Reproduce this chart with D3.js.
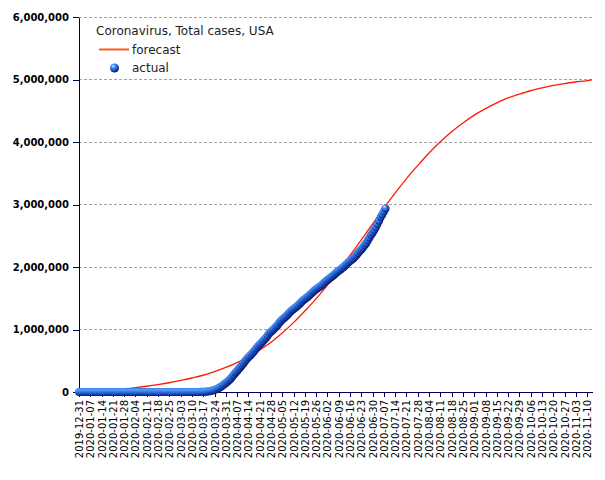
<!DOCTYPE html>
<html><head><meta charset="utf-8">
<script src="https://cdn.jsdelivr.net/npm/d3@7"></script>
<style>body{margin:0;background:#fff;overflow:hidden}</style></head>
<body><svg id="chart" width="605" height="480"></svg>
<script>
// ---- data ----
const startDate = "2019-12-31";
const endDate = "2020-11-13";
const chartTitle = "Coronavirus, Total cases, USA";
const seriesNames = ["forecast", "actual"];
// actual cumulative cases, one value per day starting 2019-12-31
const actualCases = [
0,0,0,0,0,0,0,0,0,0,0,0,0,0,0,0,0,0,0,0,0,
1,1,1,1,2,2,5,5,5,5,5,6,
7,8,11,11,11,12,12,12,12,12,13,13,14,15,15,15,15,15,15,15,15,35,35,35,53,53,59,60,66,
68,75,100,124,158,221,319,435,541,704,994,1301,1630,2183,2770,3613,4596,6344,9197,13779,19367,24192,33592,43781,54856,68211,85435,104126,123578,143491,164603,
188172,213372,243453,275586,308850,337072,366667,396223,429052,461437,496535,526396,555313,580619,607670,636350,667801,699706,732197,759086,784326,811865,840351,869170,905358,938154,965785,988197,1012582,1039909,
1069424,1103461,1132539,1158040,1180375,1204351,1228603,1257023,1283929,1309550,1329260,1347881,1369376,1390406,1417774,1442824,1467820,1486757,1508308,1528568,1551853,1577147,1600937,1622612,1643246,1662302,1680913,1699933,1721750,1747087,1770384,
1790191,1811277,1831821,1851520,1872660,1897380,1920061,1938823,1956421,1979850,2000464,2023590,2048986,2074526,2094069,2114026,2137731,2163290,2191052,2222579,2255119,2280969,2312302,2347102,2381369,2422312,2467554,2510323,2549069,2590668,
2636414,2687588,2739879,2795163,2841906,2886267,2936077
];
// forecast, at day offsets from startDate
const forecastDays = [0,7,14,21,28,35,42,49,56,63,70,77,84,91,98,105,112,119,126,133,140,147,154,161,168,175,182,189,196,203,210,217,224,231,238,245,252,259,266,273,280,287,294,301,308,315,318];
const forecastCases = [18000,23000,30000,39000,52000,70000,92000,118000,148000,185000,224000,268000,326000,393000,471000,564000,672000,797000,945000,1110000,1295000,1495000,1710000,1945000,2185000,2435000,2690000,2940000,3185000,3415000,3625000,3825000,4005000,4165000,4305000,4430000,4535000,4625000,4705000,4765000,4820000,4865000,4905000,4935000,4960000,4982000,4995000];
const xTickLabels = ["2019-12-31","2020-01-07","2020-01-14","2020-01-21","2020-01-28","2020-02-04","2020-02-11","2020-02-18","2020-02-25","2020-03-03","2020-03-10","2020-03-17","2020-03-24","2020-03-31","2020-04-07","2020-04-14","2020-04-21","2020-04-28","2020-05-05","2020-05-12","2020-05-19","2020-05-26","2020-06-02","2020-06-09","2020-06-16","2020-06-23","2020-06-30","2020-07-07","2020-07-14","2020-07-21","2020-07-28","2020-08-04","2020-08-11","2020-08-18","2020-08-25","2020-09-01","2020-09-08","2020-09-15","2020-09-22","2020-09-29","2020-10-06","2020-10-13","2020-10-20","2020-10-27","2020-11-03","2020-11-10"];
const yTicks = [0,1000000,2000000,3000000,4000000,5000000,6000000];

// ---- chart ----
(function(){
const parse = d3.utcParse("%Y-%m-%d");
const fmt = d3.utcFormat("%Y-%m-%d");
const t0 = parse(startDate);
const dayDate = i => d3.utcDay.offset(t0, i);

const svg = d3.select("#chart");
const mLeft = 79, mRight = 592, mTop = 17, mBottom = 392;
const axisColor = "#00004f";

const x = d3.scaleUtc().domain([t0, parse(endDate)]).range([mLeft, mRight]);
const y = d3.scaleLinear().domain([0, 6000000]).range([mBottom, mTop]);

const defs = svg.append("defs");
const grad = defs.append("radialGradient").attr("id","ball")
  .attr("cx","38%").attr("cy","32%").attr("r","65%").attr("fx","35%").attr("fy","28%");
grad.append("stop").attr("offset","0%").attr("stop-color","#e0f0ff");
grad.append("stop").attr("offset","30%").attr("stop-color","#4a96f5");
grad.append("stop").attr("offset","70%").attr("stop-color","#1c55cc");
grad.append("stop").attr("offset","100%").attr("stop-color","#0a1f70");

// gridlines
svg.append("g").selectAll("line").data(yTicks.filter(d => d > 0)).join("line")
  .attr("x1", mLeft).attr("x2", mRight)
  .attr("y1", d => y(d)).attr("y2", d => y(d))
  .attr("stroke", "#a4a4a4").attr("stroke-width", 1)
  .attr("stroke-dasharray", "3,2").attr("shape-rendering","crispEdges");

// y axis
const yAxis = svg.append("g").attr("transform", `translate(${mLeft},0)`)
  .call(d3.axisLeft(y).tickValues(yTicks).tickFormat(d3.format(",")).tickSize(6).tickSizeOuter(0).tickPadding(4));
yAxis.selectAll("path,line").attr("stroke", axisColor).attr("shape-rendering","crispEdges");
yAxis.selectAll("text").attr("fill","#000").style("font-family","'DejaVu Sans', sans-serif")
  .style("font-size","10px").style("font-weight","bold");

// x axis
const xAxis = svg.append("g").attr("transform", `translate(0,${mBottom})`)
  .call(d3.axisBottom(x).tickValues(xTickLabels.map(parse)).tickFormat(fmt).tickSize(5).tickSizeOuter(0));
xAxis.selectAll("path,line").attr("stroke", axisColor).attr("shape-rendering","crispEdges");
xAxis.selectAll("text")
  .attr("transform","rotate(-90)").attr("x",-8).attr("y",0).attr("dy","0.35em")
  .style("text-anchor","end").attr("fill","#000")
  .style("font-family","'DejaVu Sans', sans-serif").style("font-size","10px");

// forecast line
const line = d3.line().x(d => x(dayDate(d[0]))).y(d => y(d[1])).curve(d3.curveMonotoneX);
svg.append("path").datum(forecastDays.map((d,i) => [d, forecastCases[i]]))
  .attr("d", line).attr("fill","none").attr("stroke","#ff1a00").attr("stroke-width",1.3);

// actual points
svg.append("g").selectAll("circle").data(actualCases).join("circle")
  .attr("cx", (d,i) => x(dayDate(i))).attr("cy", d => y(d)).attr("r", 4)
  .attr("fill","url(#ball)");

// legend
const lg = svg.append("g").style("font-family","'DejaVu Sans', sans-serif").style("font-size","12px");
lg.append("text").attr("x",96).attr("y",35).attr("fill","#222").text(chartTitle);
lg.append("line").attr("x1",99).attr("x2",129).attr("y1",49.5).attr("y2",49.5)
  .attr("stroke","#ff5a1e").attr("stroke-width",2);
lg.append("text").attr("x",132).attr("y",54).attr("fill","#222").text(seriesNames[0]);
lg.append("circle").attr("cx",114.5).attr("cy",68).attr("r",4.5).attr("fill","url(#ball)");
lg.append("text").attr("x",132).attr("y",72).attr("fill","#222").text(seriesNames[1]);
})();
</script>
</body></html>
